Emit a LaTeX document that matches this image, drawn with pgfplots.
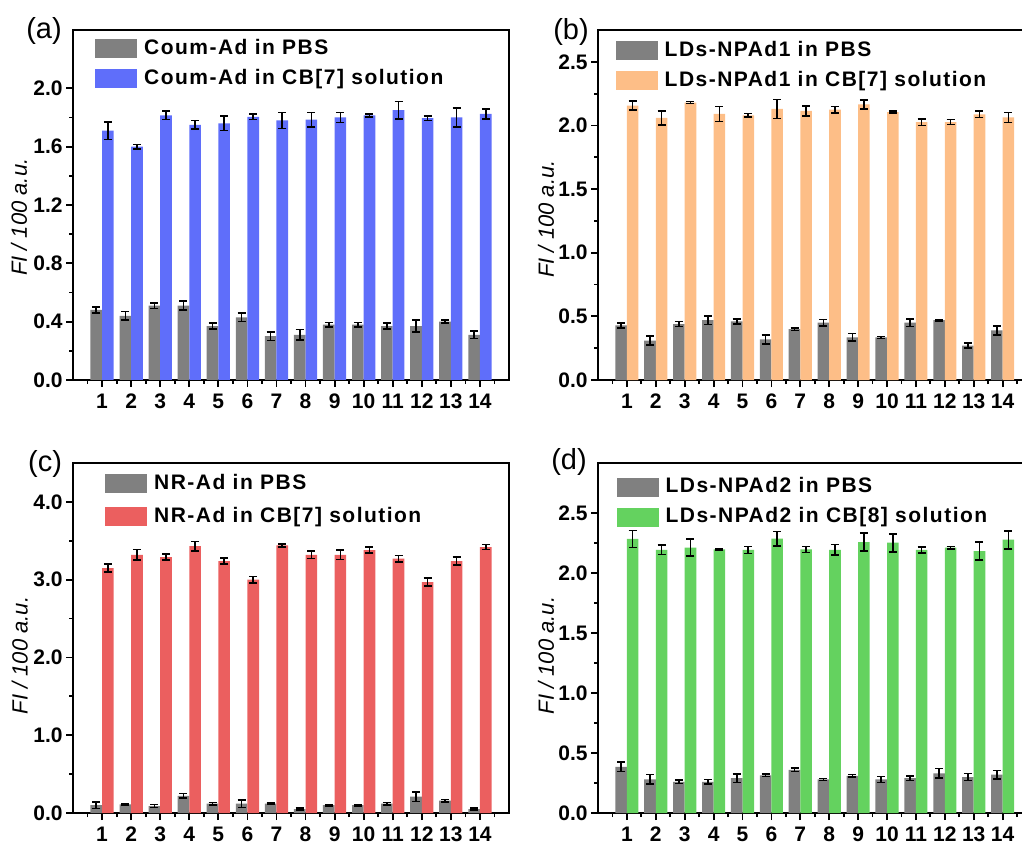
\documentclass[border=0pt]{standalone}
\usepackage{fontspec}
\setmainfont{Liberation Sans}
\usepackage{pgfplots}
\pgfplotsset{compat=1.18}
\definecolor{cgray}{RGB}{128,128,128}
\definecolor{cblue}{RGB}{95,110,250}
\definecolor{corange}{RGB}{253,190,135}
\definecolor{cred}{RGB}{235,95,95}
\definecolor{cgreen}{RGB}{100,210,95}
\tikzset{plabel/.style={font=\fontsize{14.5}{16}\selectfont}}
\pgfplotsset{
  ylab/.style={every axis y label/.style={at={(axis description cs:#1)}, rotate=90, anchor=center, font=\fontsize{11}{13}\selectfont}},
  panel/.style={
    scale only axis, height=175pt,
    ybar=0pt, bar width=0.4,
    xmin=0, xmax=15, ymin=0,
    xtick={1,...,14}, minor xtick={0.5,1.5,...,14.5},
    minor y tick num=1,
    tick pos=left, tick align=outside,
    major tick length=3.5pt, minor tick length=2pt,
    axis line style={line width=1pt}, every tick/.style={black, line width=0.9pt},
    tick label style={font=\fontsize{10.5}{12}\selectfont\bfseries},
    /pgf/number format/assume math mode=true,
    y tick label style={/pgf/number format/fixed, /pgf/number format/fixed zerofill, /pgf/number format/precision=1, inner xsep=1.5pt},
    scaled y ticks=false,
    ylabel={\textit{FI / 100 a.u.}},
    ylab={-0.124,0.465},
    clip=false,
    legend cell align=left,
    legend style={draw=none, fill=none, inner sep=0pt, row sep=0pt, anchor=north west,
      font=\fontsize{10.5}{12}\selectfont\bfseries\addfontfeatures{LetterSpace=7},
      nodes={inner xsep=3.5pt, inner ysep=2.25pt, text height=8pt, text depth=2.5pt}},
    legend image code/.code={\fill[##1] (0pt,-4.75pt) rectangle (21pt,4.75pt);},
  },
  ebar/.style={fill=#1, draw=none,
    error bars/.cd, y dir=both, y explicit,
    error bar style={black, line width=0.8pt},
    error mark=-,
    error mark options={black, line width=0.8pt, mark size=2pt, rotate=90}},
}
\begin{document}
\begin{tikzpicture}
\path[use as bounding box] (0pt,0pt) rectangle (511pt,-422.5pt);
% (a)
\begin{axis}[panel, width=218pt, ymax=2.4, ytick={0,0.4,...,2.0},
  at={(36.5pt,-15pt)}, anchor=north west,
  legend style={at={(axis description cs:0.05,0.99)}}]
\addplot[ebar=cgray] coordinates {(1,0.48)+-(0,0.02) (2,0.44)+-(0,0.03) (3,0.51)+-(0,0.02) (4,0.51)+-(0,0.03) (5,0.37)+-(0,0.02) (6,0.43)+-(0,0.03) (7,0.30)+-(0,0.03) (8,0.31)+-(0,0.035) (9,0.38)+-(0,0.015) (10,0.38)+-(0,0.015) (11,0.37)+-(0,0.02) (12,0.37)+-(0,0.04) (13,0.40)+-(0,0.01) (14,0.31)+-(0,0.025)};
\addplot[ebar=cblue] coordinates {(1,1.71)+-(0,0.06) (2,1.60)+-(0,0.015) (3,1.815)+-(0,0.03) (4,1.75)+-(0,0.03) (5,1.76)+-(0,0.05) (6,1.805)+-(0,0.02) (7,1.78)+-(0,0.055) (8,1.785)+-(0,0.05) (9,1.80)+-(0,0.035) (10,1.815)+-(0,0.01) (11,1.85)+-(0,0.06) (12,1.795)+-(0,0.015) (13,1.80)+-(0,0.065) (14,1.825)+-(0,0.035)};
\legend{Coum-Ad in PBS, Coum-Ad in CB[7] solution}
\node[plabel] at (rel axis cs:0,1) [xshift=-14.5pt, yshift=-0.5pt] {(a)};
\end{axis}
% (b)
\begin{axis}[panel, width=216.75pt, ymax=2.75, ytick={0,0.5,...,2.5},
  at={(299pt,-15pt)}, anchor=north west, ylab={-0.12,0.46},
  legend style={at={(axis description cs:0.04,0.985)}}]
\addplot[ebar=cgray] coordinates {(1,0.43)+-(0,0.02) (2,0.31)+-(0,0.035) (3,0.44)+-(0,0.02) (4,0.47)+-(0,0.035) (5,0.46)+-(0,0.02) (6,0.32)+-(0,0.035) (7,0.40)+-(0,0.01) (8,0.45)+-(0,0.025) (9,0.335)+-(0,0.03) (10,0.335)+-(0,0.008) (11,0.45)+-(0,0.03) (12,0.47)+-(0,0.005) (13,0.27)+-(0,0.02) (14,0.39)+-(0,0.035)};
\addplot[ebar=corange] coordinates {(1,2.155)+-(0,0.035) (2,2.06)+-(0,0.055) (3,2.18)+-(0,0.008) (4,2.09)+-(0,0.06) (5,2.08)+-(0,0.015) (6,2.13)+-(0,0.075) (7,2.115)+-(0,0.04) (8,2.125)+-(0,0.025) (9,2.165)+-(0,0.035) (10,2.105)+-(0,0.008) (11,2.026)+-(0,0.025) (12,2.026)+-(0,0.02) (13,2.087)+-(0,0.025) (14,2.063)+-(0,0.04)};
\legend{LDs-NPAd1 in PBS, LDs-NPAd1 in CB[7] solution}
\node[plabel] at (rel axis cs:0,1) [xshift=-13.5pt, yshift=-1pt] {(b)};
\end{axis}
% (c)
\begin{axis}[panel, width=218pt, ymax=4.5, ytick={0,1,...,4},
  at={(36.5pt,-231.5pt)}, anchor=north west, ylab={-0.122,0.45},
  legend style={at={(axis description cs:0.073,0.985)}, row sep=1.5pt}]
\addplot[ebar=cgray] coordinates {(1,0.10)+-(0,0.04) (2,0.11)+-(0,0.01) (3,0.09)+-(0,0.02) (4,0.22)+-(0,0.03) (5,0.12)+-(0,0.015) (6,0.12)+-(0,0.05) (7,0.12)+-(0,0.01) (8,0.05)+-(0,0.015) (9,0.10)+-(0,0.01) (10,0.10)+-(0,0.01) (11,0.12)+-(0,0.015) (12,0.21)+-(0,0.06) (13,0.16)+-(0,0.015) (14,0.05)+-(0,0.015)};
\addplot[ebar=cred] coordinates {(1,3.15)+-(0,0.05) (2,3.32)+-(0,0.07) (3,3.29)+-(0,0.04) (4,3.43)+-(0,0.06) (5,3.24)+-(0,0.04) (6,3.00)+-(0,0.04) (7,3.44)+-(0,0.02) (8,3.32)+-(0,0.05) (9,3.32)+-(0,0.06) (10,3.38)+-(0,0.04) (11,3.27)+-(0,0.04) (12,2.97)+-(0,0.05) (13,3.24)+-(0,0.05) (14,3.42)+-(0,0.03)};
\legend{NR-Ad in PBS, NR-Ad in CB[7] solution}
\node[plabel] at (rel axis cs:0,1) [xshift=-14pt, yshift=-0.5pt] {(c)};
\end{axis}
% (d)
\begin{axis}[panel, width=216.75pt, ymax=2.92, ytick={0,0.5,...,2.5},
  at={(299pt,-231.5pt)}, anchor=north west, ylab={-0.12,0.45},
  legend style={at={(axis description cs:0.042,0.975)}}]
\addplot[ebar=cgray] coordinates {(1,0.385)+-(0,0.04) (2,0.28)+-(0,0.04) (3,0.26)+-(0,0.015) (4,0.26)+-(0,0.02) (5,0.29)+-(0,0.035) (6,0.315)+-(0,0.01) (7,0.36)+-(0,0.015) (8,0.28)+-(0,0.008) (9,0.31)+-(0,0.01) (10,0.28)+-(0,0.025) (11,0.29)+-(0,0.02) (12,0.33)+-(0,0.04) (13,0.30)+-(0,0.03) (14,0.32)+-(0,0.035)};
\addplot[ebar=cgreen] coordinates {(1,2.286)+-(0,0.07) (2,2.195)+-(0,0.04) (3,2.215)+-(0,0.07) (4,2.20)+-(0,0.005) (5,2.195)+-(0,0.03) (6,2.29)+-(0,0.06) (7,2.20)+-(0,0.025) (8,2.195)+-(0,0.045) (9,2.26)+-(0,0.075) (10,2.255)+-(0,0.075) (11,2.195)+-(0,0.025) (12,2.215)+-(0,0.01) (13,2.185)+-(0,0.075) (14,2.28)+-(0,0.075)};
\legend{LDs-NPAd2 in PBS, LDs-NPAd2 in CB[8] solution}
\node[plabel] at (rel axis cs:0,1) [xshift=-14.5pt, yshift=0.5pt] {(d)};
\end{axis}
\end{tikzpicture}
\end{document}
